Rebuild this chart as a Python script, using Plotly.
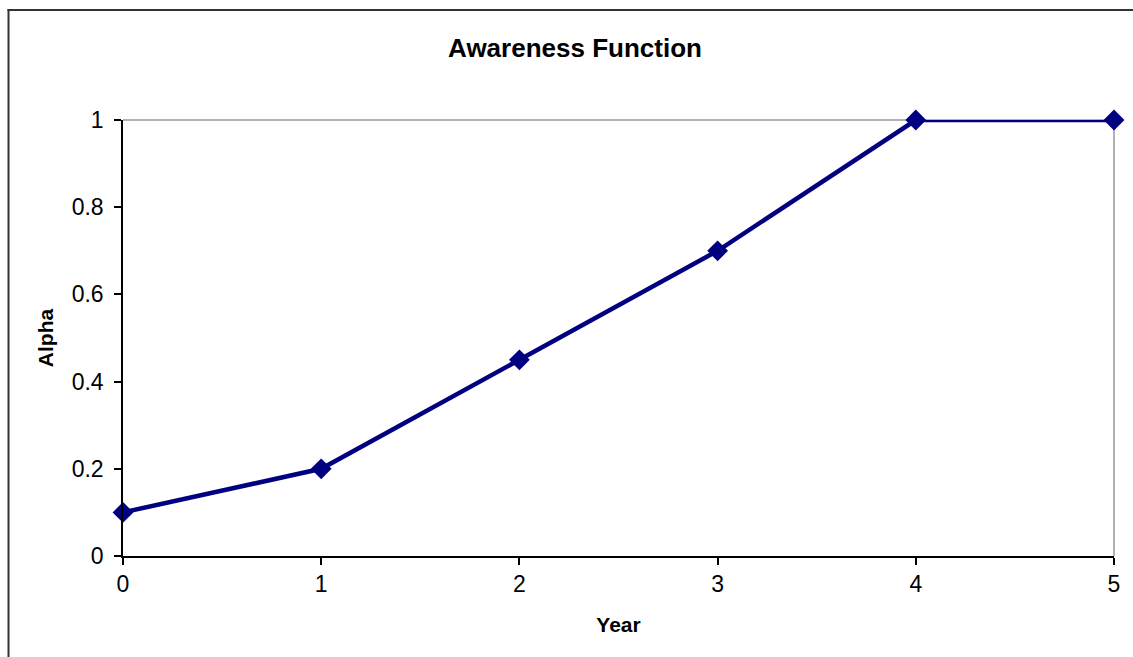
import plotly.graph_objects as go

# Awareness function values by year
years = [0, 1, 2, 3, 4, 5]
alpha = [0.1, 0.2, 0.45, 0.7, 1.0, 1.0]
y_ticks = [0, 0.2, 0.4, 0.6, 0.8, 1]
y_tick_labels = ["0", "0.2", "0.4", "0.6", "0.8", "1"]

W, H = 1133, 657
L, R, T, B = 123, 19, 120, 101
pw, ph = W - L - R, H - T - B

NAVY = "#000080"
FONT = "Liberation Sans"

fig = go.Figure()
fig.add_trace(go.Scatter(
    x=years, y=alpha, mode="lines+markers",
    line=dict(color=NAVY, width=4.5),
    marker=dict(symbol="diamond", size=16, color=NAVY),
    cliponaxis=False, showlegend=False,
))


def px_x(p):
    return (p - L) / pw


def px_y(p):
    return (H - B - p) / ph


shapes = [
    # gray top and right edges of the plot area
    dict(type="line", xref="paper", yref="paper", x0=0, x1=1, y0=1, y1=1,
         line=dict(color="#999999", width=1.5), layer="below"),
    dict(type="line", xref="paper", yref="paper", x0=1, x1=1, y0=0, y1=1,
         line=dict(color="#999999", width=1.5), layer="below"),
    # outer chart frame (left and top edges)
    dict(type="line", xref="paper", yref="paper", x0=px_x(8.5), x1=px_x(8.5),
         y0=px_y(9), y1=px_y(700), line=dict(color="#333333", width=2)),
    dict(type="line", xref="paper", yref="paper", x0=px_x(7.5), x1=px_x(1200),
         y0=px_y(10), y1=px_y(10), line=dict(color="#333333", width=2)),
]

fig.update_layout(
    width=W, height=H,
    margin=dict(l=L, r=R, t=T, b=B, pad=0),
    paper_bgcolor="white", plot_bgcolor="white",
    font=dict(family=FONT, color="black", size=20),
    title=dict(text="<b>Awareness Function</b>", font_size=26,
               x=575 / W, xanchor="center", y=1 - 48 / H, yanchor="middle"),
    shapes=shapes,
    xaxis=dict(
        range=[0, 5], tickmode="array", tickvals=years,
        ticktext=[str(v) for v in years],
        showgrid=False, zeroline=False,
        showline=True, linecolor="black", linewidth=1.5,
        ticks="outside", ticklen=7, tickwidth=1.5, tickcolor="black",
        tickfont_size=23,
        title=dict(text="<b>Year</b>", font_size=21, standoff=21),
    ),
    yaxis=dict(
        range=[0, 1], tickmode="array", tickvals=y_ticks, ticktext=y_tick_labels,
        showgrid=False, zeroline=False,
        showline=True, linecolor="black", linewidth=1.5,
        ticks="outside", ticklen=7, tickwidth=1.5, tickcolor="black",
        tickfont_size=23,
        ticklabelstandoff=6,
        title=dict(text="<b>Alpha</b>", font_size=21, standoff=12),
    ),
)

fig.write_html("out.html")
